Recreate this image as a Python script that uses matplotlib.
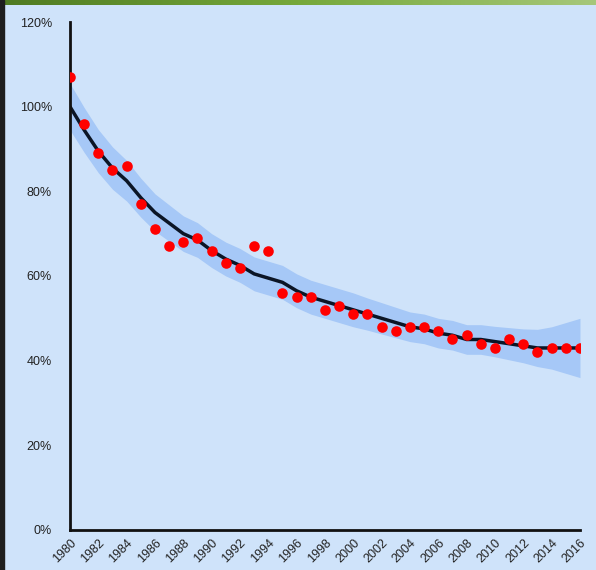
import matplotlib
matplotlib.use("Agg")
import matplotlib.pyplot as plt
import numpy as np
from matplotlib.patches import Rectangle
from matplotlib.colors import LinearSegmentedColormap

plt.rcParams["font.family"] = ["Liberation Sans", "DejaVu Sans"]

years = list(range(1980, 2017))
observed = [107, 96, 89, 85, 86, 77, 71, 67, 68, 69, 66, 63, 62, 67, 66,
            56, 55, 55, 52, 53, 51, 51, 48, 47, 48, 48, 47, 45, 46, 44,
            43, 45, 44, 42, 43, 43, 43]
trend = [100, 94.5, 89.5, 85.5, 82.5, 78.5, 75, 72.5, 70, 68.5, 66, 64,
         62.5, 60.5, 59.5, 58.5, 56.5, 55, 54, 53, 52, 51, 50, 49, 48,
         47.5, 46.5, 46, 45, 45, 44.5, 44, 43.5, 43, 43, 43, 43]
half_width = [5.5, 5.3, 5.1, 5, 4.8, 4.6, 4.4, 4.3, 4.2, 4.1, 4, 4, 4, 4,
              4, 4, 4, 4, 4, 4, 4, 3.8, 3.7, 3.6, 3.5, 3.5, 3.5, 3.5, 3.5,
              3.5, 3.6, 3.8, 4, 4.4, 5, 6, 7]
tick_years = list(range(1980, 2017, 2))

bg = "#cfe3fa"
fig = plt.figure(figsize=(5.96, 5.70), dpi=100, facecolor=bg)
ax = fig.add_axes([0.1174, 0.0702, 0.8557, 0.8912])
ax.set_facecolor(bg)

trend = np.array(trend)
hw = np.array(half_width)
ax.fill_between(years, trend - hw, trend + hw, color="#a6c8f7", lw=0, zorder=1)
ax.plot(years, trend, color="#0b1526", lw=2.5, zorder=2, solid_capstyle="round")
ax.scatter(years, observed, s=58, color="#ff0000", zorder=3, linewidths=0)

ax.set_xlim(1980, 2016)
ax.set_ylim(0, 120)
ax.set_yticks([0, 20, 40, 60, 80, 100, 120])
ax.set_yticklabels([f"{v}%" for v in [0, 20, 40, 60, 80, 100, 120]])
ax.set_xticks(tick_years)
ax.set_xticklabels([str(y) for y in tick_years], rotation=45, ha="right",
                   rotation_mode="anchor")
ax.tick_params(length=0, labelsize=9, colors="#222222")
ax.tick_params(axis="y", pad=13)
ax.tick_params(axis="x", pad=5)
for s in ["top", "right"]:
    ax.spines[s].set_visible(False)
for s in ["left", "bottom"]:
    ax.spines[s].set_color("#111111")
    ax.spines[s].set_linewidth(2)

# frame decorations: green gradient bar on top, dark strip on left
grad = np.linspace(0, 1, 256).reshape(1, -1)
cmap = LinearSegmentedColormap.from_list("g", ["#4f7a22", "#76a83a", "#a6c77a"])
gax = fig.add_axes([0, 1 - 5 / 570, 1, 5 / 570])
gax.imshow(grad, aspect="auto", cmap=cmap)
gax.axis("off")
fig.patches.append(Rectangle((0, 0), 4 / 596, 1, transform=fig.transFigure,
                             color="#1e1e1e", zorder=5))

fig.savefig("out.png", dpi=100, facecolor=bg)
